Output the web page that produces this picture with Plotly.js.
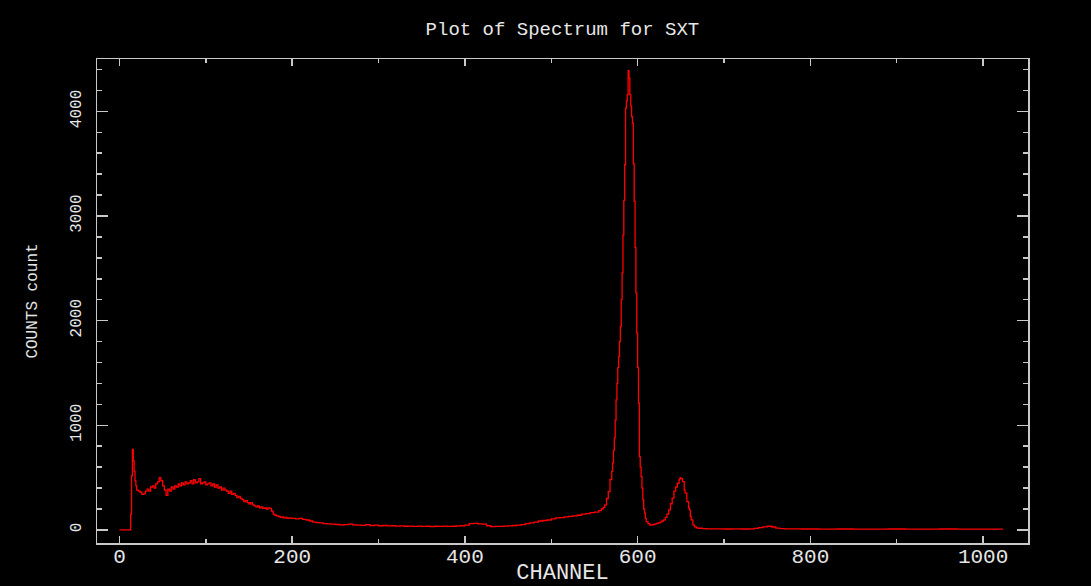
<!DOCTYPE html>
<html>
<head>
<meta charset="utf-8">
<script src="https://cdn.plot.ly/plotly-3.0.1.min.js"></script>
<style>html,body{margin:0;padding:0;background:#000;}#chart{width:1091px;height:586px;}</style>
</head>
<body>
<div id="chart"></div>
<script>
// Channel numbers (x) and counts (y)
const channels = [
  0, 5, 10, 12, 13, 14, 15, 16, 17, 18, 19, 20, 22, 24, 26, 28, 30, 32, 34, 36, 38, 40,
  42, 44, 46, 48, 50, 52, 54, 56, 58, 60, 62, 64, 66, 68, 70, 72, 74, 76, 78, 80,
  82, 84, 86, 88, 90, 92, 94, 96, 98, 100, 102, 104, 106, 108, 110, 112, 114, 116, 118, 120,
  122, 124, 126, 128, 130, 132, 134, 136, 138, 140, 142, 144, 146, 148, 150, 152, 154, 156, 158, 160,
  162, 164, 166, 168, 170, 172, 174, 176, 178, 180, 182, 184, 186, 188, 190, 192, 194, 196, 198, 200,
  204, 208, 212, 216, 220, 224, 228, 232, 236, 240, 245, 250, 255, 260, 265, 270, 275, 280, 285, 290,
  295, 300, 305, 310, 315, 320, 325, 330, 335, 340, 345, 350, 355, 360, 365, 370, 375, 380, 385, 390,
  395, 400, 405, 410, 415, 420, 425, 430, 435, 440, 445, 450, 455, 460, 465, 470, 475, 480, 485, 490,
  495, 500, 505, 510, 515, 520, 525, 530, 535, 540, 545, 550, 555, 558, 560, 562, 564, 566, 568, 570,
  571, 572, 573, 574, 575, 576, 577, 578, 579, 580, 581, 582, 583, 584, 585, 586, 587, 588, 589, 590,
  591, 592, 593, 594, 595, 596, 597, 598, 599, 600, 601, 602, 603, 604, 605, 606, 607, 608, 609, 610,
  612, 614, 616, 618, 620, 622, 624, 626, 628, 630, 632, 634, 636, 638, 640, 642, 644, 646, 648, 649,
  650, 652, 654, 655, 657, 659, 660, 661, 662, 664, 666, 668, 670, 675, 680, 690, 700, 710, 720, 730,
  735, 740, 745, 750, 755, 760, 765, 770, 790, 810, 830, 850, 870, 890, 910, 930, 950, 970, 990, 1010, 1023
];
const counts = [
  0, 0, 0, 0, 150, 520, 770, 660, 560, 470, 420, 380, 370, 360, 340, 345, 370, 390, 370, 410, 420, 400,
  440, 460, 500, 470, 420, 380, 330, 390, 370, 410, 390, 420, 410, 440, 420, 450, 430, 460, 440, 450,
  470, 440, 480, 450, 460, 490, 440, 450, 460, 430, 440, 450, 420, 440, 410, 430, 400, 410, 380, 400,
  380, 370, 350, 370, 340, 350, 330, 310, 320, 300, 290, 270, 280, 260, 250, 260, 240, 230, 220, 230,
  210, 220, 205, 210, 200, 210, 205, 180, 150, 140, 135, 130, 120, 125, 115, 120, 110, 115, 112, 110,
  105, 110, 100, 95, 85, 75, 70, 68, 60, 58, 55, 52, 48, 50, 55, 48, 45, 44, 50, 42,
  45, 40, 42, 38, 40, 36, 38, 35, 37, 34, 36, 34, 35, 32, 35, 34, 36, 33, 35, 38,
  40, 45, 60, 62, 58, 55, 40, 32, 34, 33, 36, 38, 42, 45, 50, 60, 68, 75, 85, 90,
  95, 105, 115, 118, 125, 130, 135, 140, 150, 155, 165, 170, 185, 200, 215, 240, 300, 366, 480, 560,
  640, 760, 880, 1050, 1243, 1400, 1550, 1657, 1800, 1944, 2200, 2456, 2820, 3150, 3490, 4031, 4100, 4159, 4388, 4318,
  4159, 4050, 3950, 3888, 3500, 3139, 2700, 2262, 1880, 1550, 1211, 700, 600, 510, 400, 287, 200, 160, 110, 80,
  60, 45, 48, 52, 57, 62, 68, 75, 85, 96, 120, 150, 191, 250, 303, 370, 410, 446, 480, 500,
  490, 462, 380, 351, 271, 210, 191, 130, 96, 45, 30, 20, 16, 12, 10, 10, 9, 10, 9, 10,
  14, 22, 30, 35, 28, 18, 12, 10, 9, 8, 9, 8, 8, 9, 8, 8, 9, 8, 8, 8, 8
];

const tickColor = '#c8c8c8';
const textFont = {family: '"Liberation Mono", "DejaVu Sans Mono", monospace', color: '#e6e6e6'};

const trace = {
  x: channels,
  y: counts,
  type: 'scatter',
  mode: 'lines',
  line: {color: '#ff0000', width: 1.3, shape: 'hv'},
  hoverinfo: 'x+y'
};

const layout = {
  width: 1091,
  height: 586,
  paper_bgcolor: '#000000',
  plot_bgcolor: '#000000',
  margin: {l: 97, r: 63, t: 59, b: 43},
  showlegend: false,
  title: {
    text: 'Plot of Spectrum for SXT',
    font: Object.assign({size: 19}, textFont),
    x: 0.5155, xref: 'container', xanchor: 'center',
    y: 1 - 28 / 586, yref: 'container', yanchor: 'middle'
  },
  xaxis: {
    range: [-26, 1052],
    showgrid: false,
    zeroline: false,
    showline: true,
    linecolor: tickColor,
    linewidth: 1.5,
    mirror: 'ticks',
    ticks: 'inside',
    ticklen: 7,
    tickwidth: 1.5,
    tickcolor: tickColor,
    dtick: 200,
    tick0: 0,
    minor: {ticks: 'inside', dtick: 100, ticklen: 4, tickwidth: 1.5, tickcolor: tickColor},
    tickfont: Object.assign({size: 21}, textFont),
    ticklabelstandoff: -7,
    title: {text: 'CHANNEL', font: Object.assign({size: 22}, textFont), standoff: 10}
  },
  yaxis: {
    range: [-125, 4500],
    showgrid: false,
    zeroline: false,
    showline: true,
    linecolor: tickColor,
    linewidth: 1.5,
    mirror: 'ticks',
    ticks: 'inside',
    ticklen: 11,
    tickwidth: 1.5,
    tickcolor: tickColor,
    dtick: 1000,
    tick0: 0,
    minor: {ticks: 'inside', dtick: 200, ticklen: 5, tickwidth: 1.5, tickcolor: tickColor},
    tickangle: -90,
    tickfont: Object.assign({size: 16}, textFont),
    ticklabelstandoff: 8,
    title: {text: 'COUNTS count', font: Object.assign({size: 16}, textFont), standoff: 26}
  }
};

Plotly.newPlot('chart', [trace], layout, {displayModeBar: false, staticPlot: true});
</script>
</body>
</html>
